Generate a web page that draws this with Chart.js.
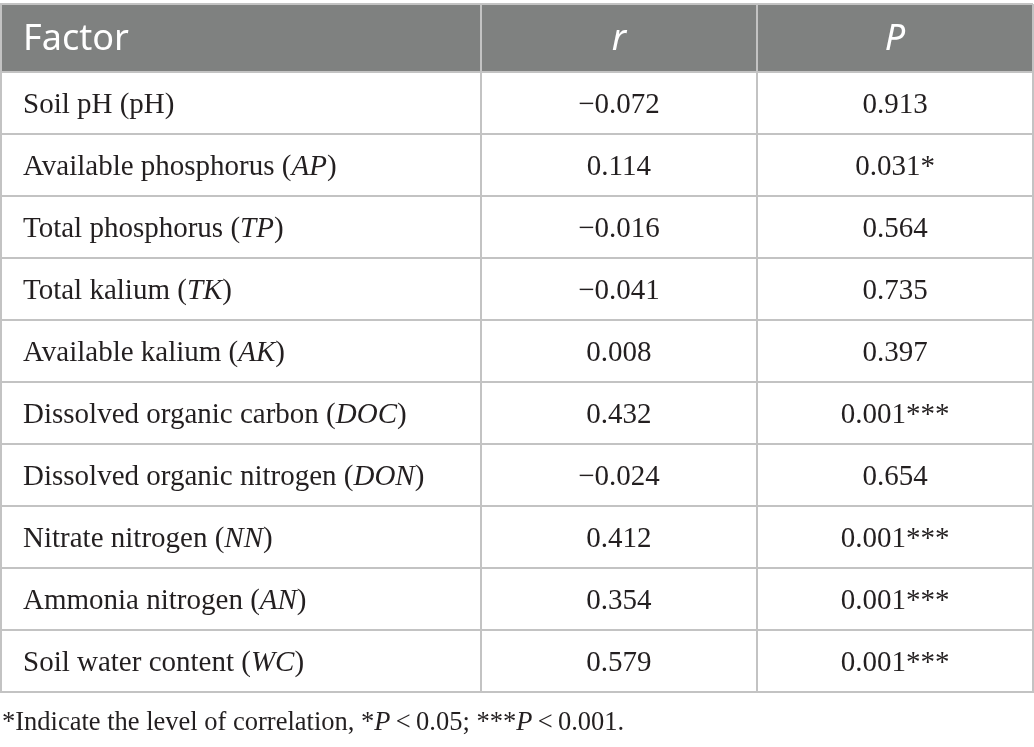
<!DOCTYPE html>
<html>
<head>
<meta charset="utf-8">
<script src="https://cdn.jsdelivr.net/npm/chart.js@4.4.1/dist/chart.umd.min.js"></script>
<style>
  html, body { margin: 0; padding: 0; background: #fff; }
  #wrap { width: 1034px; height: 747px; position: relative; }
</style>
</head>
<body>
<div id="wrap"><canvas id="myChart"></canvas></div>
<script>
// table content
const headers = ['Factor', 'r', 'P'];
const factors = [
  'Soil pH', 'Available phosphorus', 'Total phosphorus', 'Total kalium',
  'Available kalium', 'Dissolved organic carbon', 'Dissolved organic nitrogen',
  'Nitrate nitrogen', 'Ammonia nitrogen', 'Soil water content'
];
const abbrs = ['pH', 'AP', 'TP', 'TK', 'AK', 'DOC', 'DON', 'NN', 'AN', 'WC'];
const rValues = [-0.072, 0.114, -0.016, -0.041, 0.008, 0.432, -0.024, 0.412, 0.354, 0.579];
const pValues = [0.913, 0.031, 0.564, 0.735, 0.397, 0.001, 0.654, 0.001, 0.001, 0.001];
const stars = ['', '*', '', '', '', '***', '', '***', '***', '***'];
const footnote = [
  ['*Indicate the level of correlation, *', false], ['P', true],
  ['\u2009<\u20090.05; ***', false], ['P', true], ['\u2009<\u20090.001.', false]
];

// layout of the grid (column edges as a fraction of the width, header height in rows)
const colEdges = [0, 0.465, 0.7326, 1];
const headerSpan = 1.1;
const rowEdges = [-headerSpan];
for (let i = 0; i <= factors.length; i++) rowEdges.push(i);

const serif = '"Liberation Serif", "Times New Roman", serif';
const sans = '"Noto Sans", "Open Sans", sans-serif';
const textColor = '#231f20';
const lineColor = '#c3c3c3';

const fmt = v => v.toFixed(3).replace('-', '\u2212');

const colCenter = c => (colEdges[c] + colEdges[c + 1]) / 2;

function drawRich(ctx, segs, x, y, align, size, family) {
  let total = 0;
  segs.forEach(([t, it]) => {
    ctx.font = (it ? 'italic ' : '') + size + 'px ' + family;
    total += ctx.measureText(t).width;
  });
  let cx = align === 'center' ? x - total / 2 : x;
  ctx.textAlign = 'left';
  segs.forEach(([t, it]) => {
    ctx.font = (it ? 'italic ' : '') + size + 'px ' + family;
    ctx.fillText(t, cx, y);
    cx += ctx.measureText(t).width;
  });
}

const tablePlugin = {
  id: 'tableCells',
  beforeDraw(chart) {
    const { ctx, scales: { x, y } } = chart;
    ctx.save();
    ctx.fillStyle = '#7f8180';
    const top = y.getPixelForValue(-headerSpan);
    ctx.fillRect(x.left, top, x.right - x.left, y.getPixelForValue(0) - top);
    ctx.restore();
  },
  afterDraw(chart) {
    const { ctx, scales: { x, y }, chartArea } = chart;
    ctx.save();
    ctx.textBaseline = 'alphabetic';

    // header row
    const hy = y.getPixelForValue(-headerSpan / 2) + 12;
    ctx.fillStyle = '#ffffff';
    drawRich(ctx, [[headers[0], false]], x.getPixelForValue(colEdges[0]) + 22, hy, 'left', 36, sans);
    drawRich(ctx, [[headers[1], true]], x.getPixelForValue(colCenter(1)), hy, 'center', 36, sans);
    drawRich(ctx, [[headers[2], true]], x.getPixelForValue(colCenter(2)), hy, 'center', 36, sans);

    // body rows
    ctx.fillStyle = textColor;
    const rMeta = chart.getDatasetMeta(0);
    const pMeta = chart.getDatasetMeta(1);
    factors.forEach((name, i) => {
      const ry = y.getPixelForValue(i + 0.5) + 10;
      drawRich(ctx, [[name + ' (', false], [abbrs[i], abbrs[i] !== 'pH'], [')', false]],
        x.getPixelForValue(colEdges[0]) + 22, ry, 'left', 29, serif);
      const rp = rMeta.data[i];
      drawRich(ctx, [[fmt(rValues[i]), false]], rp.x, rp.y + 10, 'center', 29, serif);
      const pp = pMeta.data[i];
      drawRich(ctx, [[fmt(pValues[i]) + stars[i], false]], pp.x, pp.y + 10, 'center', 29, serif);
    });

    // footnote
    drawRich(ctx, footnote, 2, chartArea.bottom + 38, 'left', 26.5, serif);
    ctx.restore();
  }
};

const data = {
  datasets: [
    {
      label: 'r',
      data: rValues.map((v, i) => ({ x: colCenter(1), y: i + 0.5 })),
      pointRadius: 0
    },
    {
      label: 'P',
      data: pValues.map((v, i) => ({ x: colCenter(2), y: i + 0.5 })),
      pointRadius: 0
    }
  ]
};

const config = {
  type: 'scatter',
  data: data,
  options: {
    responsive: true,
    maintainAspectRatio: false,
    animation: false,
    layout: { padding: { top: 4, left: 1, right: 1, bottom: 55 } },
    plugins: {
      legend: { display: false },
      tooltip: { enabled: false },
      title: { display: false }
    },
    events: [],
    scales: {
      x: {
        type: 'linear',
        min: 0,
        max: 1,
        afterBuildTicks: s => { s.ticks = colEdges.map(v => ({ value: v })); },
        ticks: { display: false },
        grid: { color: lineColor, lineWidth: 2, drawTicks: false },
        border: { display: true, color: lineColor, width: 2 }
      },
      y: {
        type: 'linear',
        reverse: true,
        min: -headerSpan,
        max: factors.length,
        afterBuildTicks: s => { s.ticks = rowEdges.map(v => ({ value: v })); },
        ticks: { display: false },
        grid: { color: lineColor, lineWidth: 2, drawTicks: false },
        border: { display: true, color: lineColor, width: 2 }
      }
    }
  },
  plugins: [tablePlugin]
};

const ctx = document.getElementById('myChart').getContext('2d');
const chartItem = Chart.getChart('myChart');
if (chartItem) chartItem.destroy();
const chart = new Chart(ctx, config);
</script>
</body>
</html>
